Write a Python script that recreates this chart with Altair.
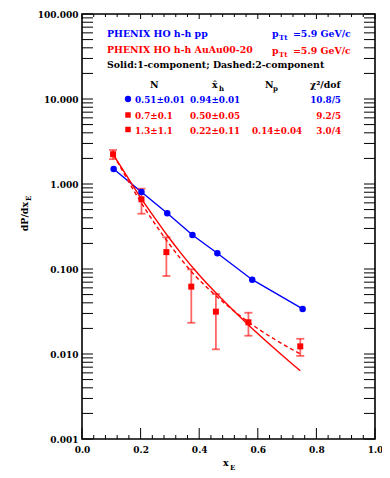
import altair as alt
import pandas as pd

# ---------------- data ----------------
pp_x = [0.108, 0.203, 0.291, 0.377, 0.462, 0.581, 0.753]
pp_y = [1.50, 0.805, 0.452, 0.251, 0.153, 0.0748, 0.0339]

aa_x = [0.106, 0.203, 0.288, 0.373, 0.457, 0.568, 0.745]
aa_y = [2.24, 0.66, 0.158, 0.062, 0.0315, 0.0236, 0.0123]
aa_hi = [2.51, 0.88, 0.236, 0.099, 0.0508, 0.0306, 0.0151]
aa_lo = [1.96, 0.447, 0.0827, 0.0233, 0.01135, 0.0164, 0.0095]

pp_fit_x = [0.108, 0.203, 0.291, 0.377, 0.462, 0.581, 0.753]
pp_fit_y = [1.50, 0.805, 0.452, 0.251, 0.153, 0.0748, 0.0339]

aa_fit1_x = [0.108, 0.15, 0.203, 0.25, 0.29, 0.336, 0.40, 0.455, 0.568, 0.65, 0.745]
aa_fit1_y = [2.19, 1.29, 0.67, 0.391, 0.251, 0.156, 0.085, 0.0532, 0.022, 0.0122, 0.00635]

aa_fit2_x = [0.108, 0.15, 0.203, 0.25, 0.29, 0.336, 0.373, 0.455, 0.568, 0.745]
aa_fit2_y = [2.2, 1.21, 0.596, 0.336, 0.214, 0.133, 0.0935, 0.0492, 0.0238, 0.0100]

y_label_vals = [0.001, 0.01, 0.1, 1, 10, 100]
x_label_vals = [0.0, 0.2, 0.4, 0.6, 0.8, 1.0]
y_tick_vals = [k * 10.0 ** e for e in range(-3, 2) for k in range(1, 10)] + [100.0]
x_major_vals = [0.0, 0.2, 0.4, 0.6, 0.8, 1.0]
x_minor_vals = [round(i * 0.04, 2) for i in range(26) if i % 5 != 0]

title_pp = "PHENIX HO h-h pp"
title_aa = "PHENIX HO h-h AuAu00-20"
ptt_text = "=5.9 GeV/c"
style_note = "Solid:1-component; Dashed:2-component"
row1 = ["0.51±0.01", "0.94±0.01", "", "10.8/5"]
row2 = ["0.7±0.1", "0.50±0.05", "", "9.2/5"]
row3 = ["1.3±1.1", "0.22±0.11", "0.14±0.04", "3.0/4"]

# ---------------- styling ----------------
W, H = 293, 425
FONT = "DejaVu Serif"
FS = 9.4
FR = 8.8
RED = "#ff0000"
BLUE = "#0000ff"

xs = alt.Scale(domain=[0, 1], nice=False, zero=False)
ys = alt.Scale(type="log", domain=[0.001, 100], nice=False)
XAX = alt.Axis(values=x_label_vals, format=".1f", ticks=False, domain=False,
               grid=False, title=None, labelPadding=6, labelFlush=False)
YAX = alt.Axis(values=y_label_vals, format=".3f", ticks=False, domain=False,
               grid=False, title=None, labelPadding=4, labelFlush=False)


def X(f):
    return alt.X(f, type="quantitative", scale=xs, axis=XAX)


def Y(f):
    return alt.Y(f, type="quantitative", scale=ys, axis=YAX)


pp = pd.DataFrame({"x": pp_x, "y": pp_y})
aa = pd.DataFrame({"x": aa_x, "y": aa_y, "lo": aa_lo, "hi": aa_hi})
ppf = pd.DataFrame({"x": pp_fit_x, "y": pp_fit_y})
aaf1 = pd.DataFrame({"x": aa_fit1_x, "y": aa_fit1_y})
aaf2 = pd.DataFrame({"x": aa_fit2_x, "y": aa_fit2_y})

pts_pp = alt.Chart(pp).mark_point(shape="circle", filled=True, size=42, color=BLUE, opacity=1).encode(
    x=X("x"), y=Y("y"))
line_pp = alt.Chart(ppf).mark_line(color=BLUE, strokeWidth=1.4).encode(x=X("x"), y=Y("y"))
line_aa1 = alt.Chart(aaf1).mark_line(color=RED, strokeWidth=1.4, interpolate="monotone").encode(
    x=X("x"), y=Y("y"))
line_aa2 = alt.Chart(aaf2).mark_line(color=RED, strokeWidth=1.4, strokeDash=[4, 3],
                                     interpolate="monotone").encode(x=X("x"), y=Y("y"))

err_aa = alt.Chart(aa).mark_rule(color=RED, strokeWidth=1.8, opacity=0.6).encode(
    x=X("x"), y=Y("lo"), y2="hi:Q")
cap_hi = alt.Chart(aa).mark_tick(color=RED, thickness=1.8, size=8, orient="horizontal", opacity=0.6).encode(
    x=X("x"), y=Y("hi"))
cap_lo = alt.Chart(aa).mark_tick(color=RED, thickness=1.8, size=8, orient="horizontal", opacity=0.6).encode(
    x=X("x"), y=Y("lo"))
pts_aa = alt.Chart(aa).mark_point(shape="square", filled=True, size=36, color=RED, opacity=1).encode(
    x=X("x"), y=Y("y"))

# inward ticks
yt = pd.DataFrame({"v": y_tick_vals})
xmaj = pd.DataFrame({"v": x_major_vals})
xmin = pd.DataFrame({"v": x_minor_vals})


def yticks(x0, x1):
    return alt.Chart(yt).mark_rule(color="black", strokeWidth=1).encode(
        y=Y("v"), x=alt.value(x0), x2=alt.value(x1))


def xticks(df, y0, y1):
    return alt.Chart(df).mark_rule(color="black", strokeWidth=1).encode(
        x=X("v"), y=alt.value(y0), y2=alt.value(y1))


tick_layers = [
    yticks(0, 11), yticks(W - 11, W),
    xticks(xmaj, H, H - 11), xticks(xmin, H, H - 4),
    xticks(xmaj, 0, 5), xticks(xmin, 0, 3),
]


def txt(s, x, y, color="black", size=FS, align="left", angle=0, baseline="alphabetic"):
    return alt.Chart(pd.DataFrame({"t": [s]})).mark_text(
        font=FONT, fontWeight="bold", fontSize=size, color=color, align=align,
        baseline=baseline, angle=angle).encode(x=alt.value(x), y=alt.value(y), text="t:N")


def marker(shape, color, x, y, size):
    return alt.Chart(pd.DataFrame({"a": [0]})).mark_point(
        shape=shape, filled=True, size=size, color=color, opacity=1).encode(x=alt.value(x), y=alt.value(y))


texts = [
    txt(title_pp, 25, 23, BLUE),
    txt("p", 190, 23, BLUE), txt("Tt", 197, 26, BLUE, size=7), txt(ptt_text, 211, 23, BLUE),
    txt(title_aa, 25, 39, RED),
    txt("p", 190, 40, RED), txt("Tt", 197, 43, RED, size=7), txt(ptt_text, 211, 40, RED),
    txt(style_note, 25, 54),
    txt("N", 68, 74),
    txt("x\u0302", 130, 74), txt("h", 137, 77, size=7),
    txt("N", 183, 74), txt("p", 191, 77, size=7),
    txt("\u03c7\u00b2/dof", 228, 74),
    marker("circle", BLUE, 46, 85, 40),
    marker("square", RED, 46, 101, 30),
    marker("square", RED, 46, 115.5, 30),
]
cols_x = [53, 108, 170]
for row, yy, col in [(row1, 89, BLUE), (row2, 105, RED), (row3, 119.5, RED)]:
    for i in range(3):
        if row[i]:
            texts.append(txt(row[i], cols_x[i], yy, col, size=FR))
    texts.append(txt(row[3], 259, yy, col, size=FR, align="right"))

# axis titles with subscripts
texts += [
    txt("dP/dx", -54, 188, angle=270, align="right"),
    txt("E", -51, 187, size=7, angle=270, align="left"),
    txt("x", 141, 452),
    txt("E", 148, 456, size=7),
]

chart = alt.layer(
    *tick_layers, line_pp, line_aa1, line_aa2, err_aa, cap_hi, cap_lo, pts_aa, pts_pp, *texts
).properties(
    width=W, height=H,
    autosize=alt.AutoSizeParams(type="none"),
    padding={"left": 74, "top": 6, "right": 7, "bottom": 36},
).configure_view(stroke="black", strokeWidth=1.6).configure_axis(
    labelFont=FONT, labelFontWeight="bold", labelFontSize=9, labelColor="black"
)

chart.save("out.html", embed_options={"renderer": "svg", "actions": False})
